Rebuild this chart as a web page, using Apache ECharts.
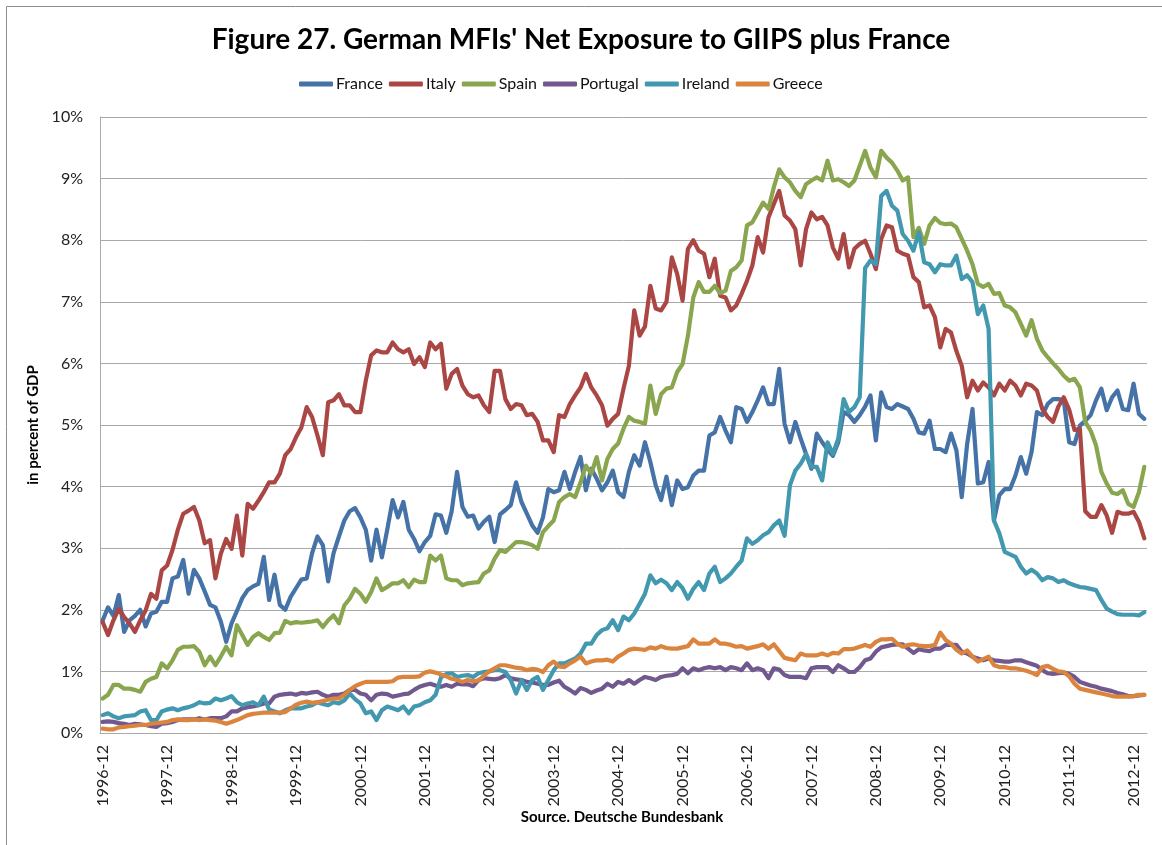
<!DOCTYPE html>
<html>
<head>
<meta charset="utf-8">
<title>German MFIs' Net Exposure to GIIPS plus France</title>
<script src="https://cdn.jsdelivr.net/npm/echarts@6/dist/echarts.min.js"></script>
<style>
  html, body { margin: 0; padding: 0; background: #fff; }
  #net-exposure-chart { width: 1162px; height: 845px; }
</style>
</head>
<body>
<div id="net-exposure-chart"></div>
<script>
// monthly observations, 1996-12 .. 2013-02
const months = [
  '1996-12','1997-01','1997-02','1997-03','1997-04','1997-05','1997-06','1997-07','1997-08','1997-09','1997-10','1997-11',
  '1997-12','1998-01','1998-02','1998-03','1998-04','1998-05','1998-06','1998-07','1998-08','1998-09','1998-10','1998-11',
  '1998-12','1999-01','1999-02','1999-03','1999-04','1999-05','1999-06','1999-07','1999-08','1999-09','1999-10','1999-11',
  '1999-12','2000-01','2000-02','2000-03','2000-04','2000-05','2000-06','2000-07','2000-08','2000-09','2000-10','2000-11',
  '2000-12','2001-01','2001-02','2001-03','2001-04','2001-05','2001-06','2001-07','2001-08','2001-09','2001-10','2001-11',
  '2001-12','2002-01','2002-02','2002-03','2002-04','2002-05','2002-06','2002-07','2002-08','2002-09','2002-10','2002-11',
  '2002-12','2003-01','2003-02','2003-03','2003-04','2003-05','2003-06','2003-07','2003-08','2003-09','2003-10','2003-11',
  '2003-12','2004-01','2004-02','2004-03','2004-04','2004-05','2004-06','2004-07','2004-08','2004-09','2004-10','2004-11',
  '2004-12','2005-01','2005-02','2005-03','2005-04','2005-05','2005-06','2005-07','2005-08','2005-09','2005-10','2005-11',
  '2005-12','2006-01','2006-02','2006-03','2006-04','2006-05','2006-06','2006-07','2006-08','2006-09','2006-10','2006-11',
  '2006-12','2007-01','2007-02','2007-03','2007-04','2007-05','2007-06','2007-07','2007-08','2007-09','2007-10','2007-11',
  '2007-12','2008-01','2008-02','2008-03','2008-04','2008-05','2008-06','2008-07','2008-08','2008-09','2008-10','2008-11',
  '2008-12','2009-01','2009-02','2009-03','2009-04','2009-05','2009-06','2009-07','2009-08','2009-09','2009-10','2009-11',
  '2009-12','2010-01','2010-02','2010-03','2010-04','2010-05','2010-06','2010-07','2010-08','2010-09','2010-10','2010-11',
  '2010-12','2011-01','2011-02','2011-03','2011-04','2011-05','2011-06','2011-07','2011-08','2011-09','2011-10','2011-11',
  '2011-12','2012-01','2012-02','2012-03','2012-04','2012-05','2012-06','2012-07','2012-08','2012-09','2012-10','2012-11',
  '2012-12','2013-01','2013-02'
]

// net exposure, in percent of GDP
const france = [
  1.83, 2.04, 1.9, 2.24, 1.64, 1.83, 1.9, 2.0, 1.73, 1.94, 1.97, 2.13,
  2.13, 2.51, 2.54, 2.81, 2.26, 2.65, 2.51, 2.3, 2.08, 2.04, 1.81, 1.48,
  1.78, 1.98, 2.19, 2.32, 2.38, 2.42, 2.86, 2.16, 2.57, 2.08, 2.0, 2.21,
  2.35, 2.49, 2.51, 2.92, 3.19, 3.05, 2.46, 2.92, 3.19, 3.45, 3.6, 3.65,
  3.5, 3.3, 2.8, 3.3, 2.85, 3.3, 3.78, 3.5, 3.75, 3.3, 3.15, 2.95,
  3.1, 3.2, 3.55, 3.53, 3.25, 3.6, 4.24, 3.67, 3.51, 3.53, 3.32, 3.43,
  3.51, 3.1, 3.55, 3.62, 3.7, 4.07, 3.75, 3.56, 3.37, 3.25, 3.5, 3.96,
  3.91, 3.94, 4.24, 3.96, 4.24, 4.48, 3.94, 4.29, 4.13, 3.94, 4.07, 4.26,
  3.91, 3.83, 4.24, 4.51, 4.34, 4.72, 4.4, 4.02, 3.78, 4.16, 3.7, 4.1,
  3.96, 3.99, 4.18, 4.26, 4.26, 4.83, 4.88, 5.13, 4.91, 4.72, 5.29, 5.26,
  5.05, 5.21, 5.4, 5.61, 5.34, 5.34, 5.91, 5.02, 4.72, 5.05, 4.78, 4.53,
  4.29, 4.86, 4.72, 4.6, 4.5, 4.72, 5.21, 5.16, 5.05, 5.16, 5.3, 5.48,
  4.75, 5.53, 5.29, 5.26, 5.34, 5.3, 5.26, 5.1, 4.88, 4.86, 5.07, 4.61,
  4.61, 4.56, 4.86, 4.59, 3.83, 4.69, 5.26, 4.05, 4.07, 4.4, 3.45, 3.86,
  3.96, 3.96, 4.18, 4.48, 4.21, 4.56, 5.21, 5.16, 5.34, 5.42, 5.42, 5.4,
  4.72, 4.69, 4.99, 5.07, 5.16, 5.4, 5.59, 5.24, 5.45, 5.56, 5.26, 5.24,
  5.67, 5.18, 5.1
]
const italy = [
  1.8, 1.59, 1.83, 2.02, 1.88, 1.78, 1.64, 1.83, 1.99, 2.26, 2.18, 2.64,
  2.72, 2.97, 3.3, 3.56, 3.61, 3.67, 3.45, 3.08, 3.13, 2.51, 2.91, 3.15,
  2.99, 3.53, 2.88, 3.72, 3.64, 3.77, 3.91, 4.07, 4.07, 4.21, 4.51, 4.61,
  4.8, 4.96, 5.29, 5.13, 4.83, 4.51, 5.37, 5.4, 5.5, 5.32, 5.32, 5.21,
  5.21, 5.72, 6.13, 6.21, 6.18, 6.18, 6.34, 6.23, 6.18, 6.23, 5.99, 6.1,
  5.94, 6.34, 6.23, 6.32, 5.59, 5.83, 5.91, 5.64, 5.5, 5.45, 5.48, 5.32,
  5.21, 5.88, 5.88, 5.42, 5.26, 5.34, 5.32, 5.16, 5.18, 5.05, 4.75, 4.75,
  4.56, 5.16, 5.13, 5.34, 5.48, 5.61, 5.83, 5.61, 5.48, 5.32, 4.99, 5.1,
  5.18, 5.59, 5.96, 6.86, 6.45, 6.6, 7.26, 6.89, 6.86, 7.0, 7.72, 7.45,
  7.02, 7.86, 8.0, 7.83, 7.78, 7.4, 7.7, 7.1, 7.07, 6.86, 6.94, 7.13,
  7.34, 7.59, 8.05, 7.8, 8.37, 8.59, 8.8, 8.4, 8.32, 8.18, 7.59, 8.18,
  8.45, 8.34, 8.38, 8.24, 7.88, 7.7, 8.1, 7.56, 7.86, 7.94, 7.99, 7.78,
  7.53, 8.02, 8.24, 8.21, 7.83, 7.78, 7.75, 7.4, 7.32, 6.91, 6.94, 6.75,
  6.26, 6.56, 6.5, 6.2, 5.96, 5.45, 5.72, 5.56, 5.69, 5.61, 5.48, 5.67,
  5.56, 5.72, 5.64, 5.48, 5.67, 5.64, 5.56, 5.26, 5.13, 5.05, 5.3, 5.45,
  5.25, 4.92, 4.94, 3.6, 3.51, 3.51, 3.7, 3.53, 3.25, 3.59, 3.56, 3.56,
  3.59, 3.43, 3.16
]
const spain = [
  0.56, 0.62, 0.78, 0.78, 0.72, 0.72, 0.7, 0.67, 0.83, 0.88, 0.91, 1.13,
  1.05, 1.18, 1.35, 1.4, 1.4, 1.41, 1.32, 1.1, 1.24, 1.1, 1.24, 1.4,
  1.26, 1.75, 1.59, 1.43, 1.56, 1.62, 1.56, 1.51, 1.62, 1.63, 1.82, 1.78,
  1.8, 1.79, 1.8, 1.81, 1.83, 1.72, 1.83, 1.91, 1.78, 2.07, 2.18, 2.34,
  2.26, 2.13, 2.29, 2.51, 2.32, 2.37, 2.43, 2.43, 2.48, 2.37, 2.49, 2.45,
  2.45, 2.88, 2.8, 2.88, 2.51, 2.48, 2.48, 2.4, 2.43, 2.44, 2.45, 2.59,
  2.64, 2.83, 2.97, 2.94, 3.02, 3.1, 3.1, 3.08, 3.05, 2.99, 3.26, 3.36,
  3.45, 3.75, 3.83, 3.88, 3.83, 4.07, 4.34, 4.21, 4.48, 4.1, 4.45, 4.61,
  4.7, 4.94, 5.13, 5.07, 5.05, 5.02, 5.64, 5.18, 5.5, 5.59, 5.61, 5.86,
  5.99, 6.45, 7.07, 7.32, 7.16, 7.16, 7.26, 7.14, 7.18, 7.5, 7.56, 7.67,
  8.24, 8.29, 8.45, 8.61, 8.51, 8.86, 9.15, 9.02, 8.94, 8.8, 8.7, 8.91,
  8.97, 9.02, 8.97, 9.29, 8.97, 8.99, 8.94, 8.88, 8.97, 9.21, 9.45, 9.18,
  9.02, 9.45, 9.34, 9.26, 9.13, 8.97, 9.02, 8.05, 8.2, 7.94, 8.24, 8.36,
  8.28, 8.26, 8.27, 8.21, 8.02, 7.83, 7.61, 7.29, 7.24, 7.29, 7.13, 7.14,
  6.94, 6.91, 6.83, 6.64, 6.45, 6.7, 6.4, 6.21, 6.1, 6.0, 5.91, 5.8,
  5.72, 5.75, 5.61, 5.05, 4.91, 4.67, 4.24, 4.05, 3.9, 3.88, 3.94, 3.72,
  3.67, 3.91, 4.32
]
const portugal = [
  0.18, 0.19, 0.18, 0.16, 0.15, 0.13, 0.15, 0.14, 0.13, 0.11, 0.1, 0.15,
  0.16, 0.18, 0.21, 0.22, 0.22, 0.22, 0.24, 0.22, 0.24, 0.24, 0.24, 0.27,
  0.35, 0.35, 0.4, 0.42, 0.43, 0.45, 0.48, 0.48, 0.59, 0.62, 0.63, 0.64,
  0.62, 0.65, 0.64, 0.66, 0.67, 0.62, 0.59, 0.62, 0.62, 0.64, 0.7, 0.7,
  0.64, 0.62, 0.53, 0.62, 0.64, 0.63, 0.59, 0.61, 0.63, 0.64, 0.7, 0.75,
  0.78, 0.8, 0.77, 0.75, 0.78, 0.75, 0.8, 0.79, 0.79, 0.76, 0.86, 0.89,
  0.88, 0.87, 0.89, 0.94, 0.89, 0.87, 0.86, 0.83, 0.82, 0.8, 0.78, 0.78,
  0.82, 0.85, 0.75, 0.7, 0.64, 0.73, 0.7, 0.65, 0.69, 0.72, 0.8, 0.75,
  0.83, 0.8, 0.86, 0.8, 0.86, 0.91, 0.89, 0.86, 0.91, 0.93, 0.94, 0.96,
  1.05, 0.97, 1.05, 1.02, 1.05, 1.07, 1.05, 1.07, 1.02, 1.07, 1.05, 1.02,
  1.13, 1.02, 1.05, 1.02, 0.89, 1.05, 1.03, 0.94, 0.91, 0.91, 0.91, 0.89,
  1.05, 1.07, 1.07, 1.07, 0.99, 1.1, 1.05, 0.99, 0.99, 1.07, 1.18, 1.21,
  1.32, 1.39, 1.41, 1.43, 1.44, 1.44, 1.37, 1.3, 1.36, 1.34, 1.33, 1.37,
  1.37, 1.43, 1.43, 1.43, 1.32, 1.29, 1.24, 1.21, 1.18, 1.21, 1.18, 1.17,
  1.16, 1.16, 1.18, 1.18, 1.15, 1.12, 1.09, 1.02, 0.97, 0.96, 0.97, 0.98,
  0.96, 0.91, 0.83, 0.8, 0.77, 0.75, 0.72, 0.7, 0.68, 0.65, 0.63, 0.6,
  0.6, 0.61, 0.62
]
const ireland = [
  0.29, 0.32, 0.27, 0.24, 0.27, 0.28, 0.29, 0.35, 0.37, 0.21, 0.21, 0.35,
  0.38, 0.4, 0.37, 0.4, 0.42, 0.45, 0.5, 0.48, 0.49, 0.56, 0.53, 0.56,
  0.6, 0.5, 0.45, 0.48, 0.5, 0.45, 0.59, 0.38, 0.35, 0.32, 0.37, 0.4,
  0.4, 0.4, 0.43, 0.45, 0.5, 0.47, 0.45, 0.5, 0.48, 0.53, 0.64, 0.55,
  0.48, 0.32, 0.35, 0.21, 0.37, 0.43, 0.4, 0.37, 0.43, 0.32, 0.43, 0.45,
  0.5, 0.53, 0.62, 0.9, 0.96, 0.97, 0.91, 0.93, 0.94, 0.91, 0.97, 0.99,
  1.0, 1.02, 1.02, 0.99, 0.86, 0.64, 0.86, 0.7, 0.86, 0.91, 0.7, 0.86,
  1.02, 1.13, 1.13, 1.17, 1.21, 1.29, 1.45, 1.45, 1.59, 1.67, 1.7, 1.83,
  1.67, 1.89, 1.83, 1.94, 2.1, 2.26, 2.56, 2.43, 2.49, 2.43, 2.32, 2.45,
  2.35, 2.18, 2.34, 2.45, 2.32, 2.59, 2.7, 2.45, 2.51, 2.59, 2.7, 2.8,
  3.16, 3.07, 3.13, 3.21, 3.26, 3.37, 3.45, 3.2, 4.02, 4.26, 4.37, 4.53,
  4.32, 4.32, 4.1, 4.72, 4.53, 4.78, 5.42, 5.21, 5.29, 5.45, 7.55, 7.67,
  7.61, 8.72, 8.8, 8.56, 8.48, 8.1, 7.99, 7.83, 8.13, 7.64, 7.61, 7.48,
  7.61, 7.59, 7.59, 7.75, 7.37, 7.43, 7.32, 6.8, 6.94, 6.56, 3.45, 3.24,
  2.94, 2.9, 2.86, 2.7, 2.59, 2.65, 2.59, 2.48, 2.53, 2.51, 2.45, 2.48,
  2.43, 2.4, 2.37, 2.36, 2.34, 2.32, 2.16, 2.02, 1.97, 1.93, 1.92, 1.92,
  1.92, 1.91, 1.96
]
const greece = [
  0.07, 0.06, 0.06, 0.09, 0.1, 0.11, 0.12, 0.13, 0.13, 0.15, 0.16, 0.17,
  0.18, 0.21, 0.22, 0.21, 0.21, 0.22, 0.21, 0.22, 0.21, 0.2, 0.18, 0.15,
  0.18, 0.21, 0.25, 0.29, 0.31, 0.32, 0.33, 0.33, 0.33, 0.33, 0.34, 0.4,
  0.46, 0.49, 0.51, 0.49, 0.5, 0.52, 0.54, 0.56, 0.56, 0.62, 0.7, 0.76,
  0.8, 0.83, 0.83, 0.83, 0.83, 0.83, 0.84, 0.9, 0.91, 0.91, 0.91, 0.92,
  0.98, 1.0, 0.98, 0.95, 0.92, 0.88, 0.86, 0.83, 0.86, 0.84, 0.85, 0.93,
  1.0, 1.05, 1.1, 1.1, 1.08, 1.06, 1.05, 1.02, 1.04, 1.03, 0.99, 1.1,
  1.16, 1.08, 1.07, 1.13, 1.18, 1.24, 1.13, 1.16, 1.18, 1.18, 1.19, 1.16,
  1.24, 1.29, 1.35, 1.37, 1.36, 1.35, 1.39, 1.37, 1.41, 1.38, 1.37, 1.37,
  1.39, 1.41, 1.52, 1.45, 1.45, 1.45, 1.52, 1.45, 1.45, 1.43, 1.4, 1.41,
  1.37, 1.39, 1.41, 1.44, 1.37, 1.44, 1.33, 1.22, 1.2, 1.18, 1.29, 1.26,
  1.26, 1.26, 1.29, 1.26, 1.3, 1.29, 1.36, 1.36, 1.37, 1.4, 1.43, 1.4,
  1.48, 1.52, 1.52, 1.53, 1.45, 1.4, 1.43, 1.44, 1.42, 1.41, 1.41, 1.43,
  1.63, 1.51, 1.45, 1.35, 1.29, 1.34, 1.24, 1.16, 1.2, 1.24, 1.1, 1.07,
  1.07, 1.05, 1.05, 1.03, 1.01, 0.98, 0.94, 1.07, 1.09, 1.04, 1.0, 0.99,
  0.92, 0.8, 0.72, 0.7, 0.68, 0.66, 0.64, 0.62, 0.6, 0.59, 0.59, 0.59,
  0.6, 0.62, 0.62
]

const countries = ['France', 'Italy', 'Spain', 'Portugal', 'Ireland', 'Greece']
const colors = ['#4572A7', '#AA4643', '#89A54E', '#71588F', '#4198AF', '#DB843D']
const yTicks = [0, 1, 2, 3, 4, 5, 6, 7, 8, 9, 10]

const font = 'Lato, "Open Sans", "Liberation Sans", sans-serif'
const gray = '#a9a9a9'

const chart = echarts.init(document.getElementById('net-exposure-chart'))

const seriesData = [france, italy, spain, portugal, ireland, greece]
const series = countries.map(function (name, i) {
  return {
    name: name,
    type: 'line',
    data: seriesData[i],
    symbol: 'none',
    smooth: false,
    lineStyle: { width: 4.2, cap: 'round', join: 'round' },
    emphasis: { disabled: true }
  }
})

chart.setOption({
  animation: false,
  backgroundColor: '#fff',
  color: colors,
  textStyle: { fontFamily: font },
  title: {
    text: "Figure 27. German MFIs' Net Exposure to GIIPS plus France",
    left: 'center',
    top: 21,
    textStyle: { fontFamily: font, fontSize: 28, fontWeight: 'bold', color: '#000' }
  },
  legend: {
    data: countries,
    left: 294,
    top: 71,
    icon: 'roundRect',
    itemWidth: 34,
    itemHeight: 5,
    itemGap: 6,
    textStyle: { fontFamily: font, fontSize: 16, color: '#111', padding: [0, 0, 0, -2] }
  },
  graphic: [
    // chart area frame
    {
      type: 'rect',
      shape: { x: 6.5, y: 6.5, width: 1200, height: 900 },
      style: { fill: 'none', stroke: '#8c8c8c', lineWidth: 1 },
      silent: true
    },
    // source note under the category labels
    {
      type: 'text',
      x: 622,
      y: 817,
      style: {
        text: 'Source. Deutsche Bundesbank',
        fill: '#000',
        font: 'bold 15px ' + font,
        textAlign: 'center',
        textVerticalAlign: 'middle'
      },
      silent: true
    }
  ],
  grid: {
    left: 100,
    right: 15,
    top: 117,
    bottom: 112,
    containLabel: false
  },
  xAxis: {
    type: 'category',
    data: months,
    boundaryGap: true,
    axisLine: { show: true, lineStyle: { color: gray, width: 1 } },
    axisTick: { show: false },
    axisLabel: {
      interval: 11,
      rotate: 90,
      margin: 12,
      fontFamily: font,
      fontSize: 16,
      color: '#222'
    },
    splitLine: { show: false }
  },
  yAxis: {
    type: 'value',
    min: yTicks[0],
    max: yTicks[yTicks.length - 1],
    interval: 1,
    name: 'in percent of GDP',
    nameLocation: 'middle',
    nameGap: 49,
    nameTextStyle: { fontFamily: font, fontSize: 15, fontWeight: 'bold', color: '#000' },
    axisLine: { show: true, lineStyle: { color: gray, width: 1 } },
    axisTick: { show: false },
    axisLabel: {
      formatter: '{value}%',
      margin: 17,
      fontFamily: font,
      fontSize: 16,
      color: '#222'
    },
    splitLine: { show: true, lineStyle: { color: gray, width: 1 } }
  },
  series: series
})

window.addEventListener('resize', function () {
  chart.resize()
})
</script>
</body>
</html>
